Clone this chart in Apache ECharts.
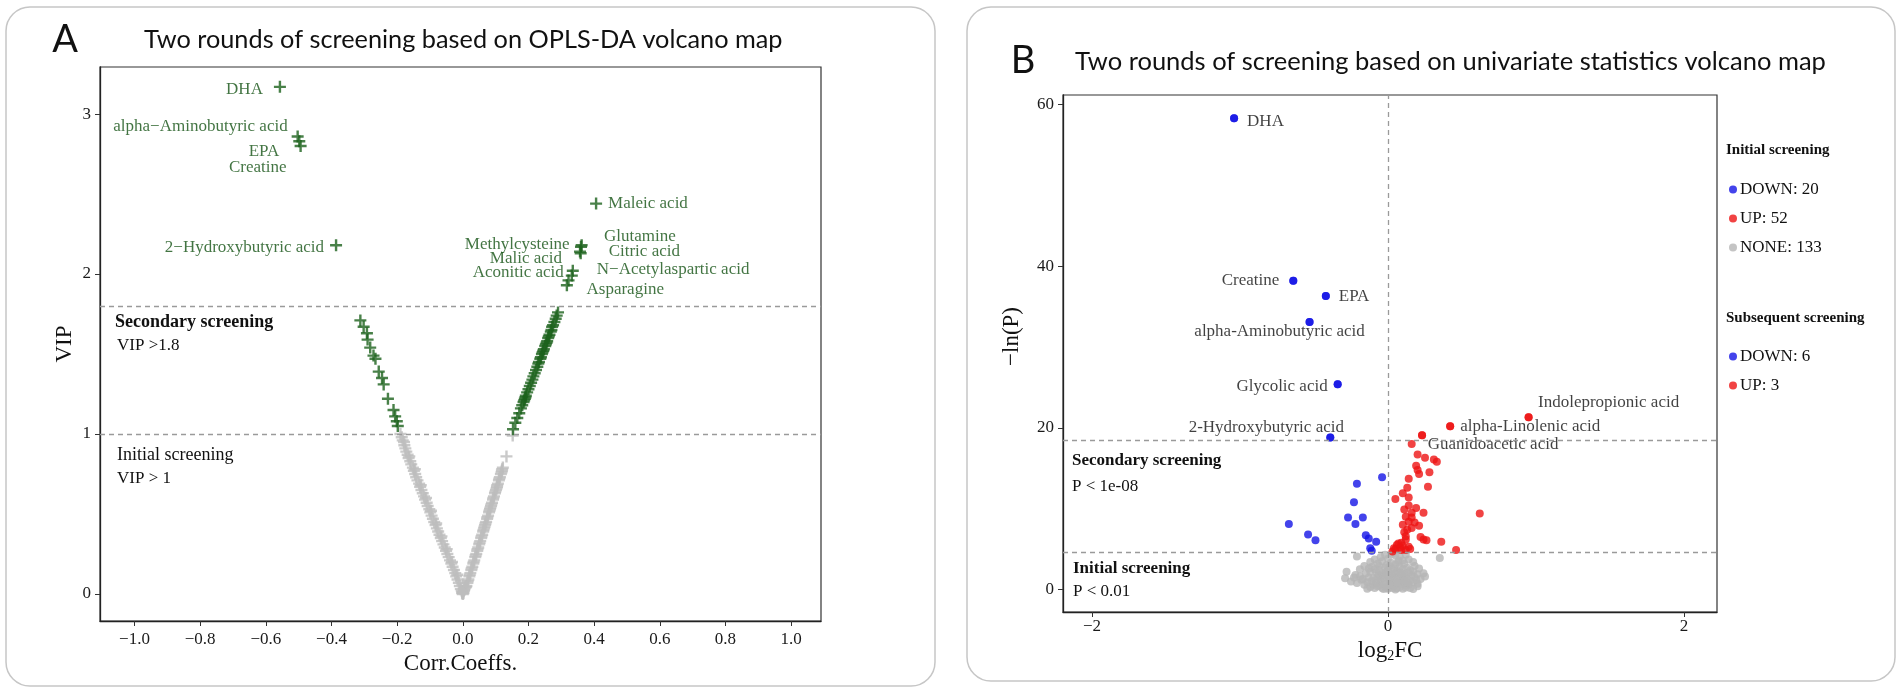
<!DOCTYPE html>
<html><head><meta charset="utf-8">
<script src="https://cdn.jsdelivr.net/npm/echarts@6/dist/echarts.min.js"></script>
<style>html,body{margin:0;padding:0;background:#fff}#c{width:1902px;height:691px}</style>
</head><body><div id="c"></div>
<script>
// ---------- tick labels ----------
const corrTicks = [-1.0, -0.8, -0.6, -0.4, -0.2, 0.0, 0.2, 0.4, 0.6, 0.8, 1.0];
const vipTicks = [0, 1, 2, 3];
const fcTicks = [-2, 0, 2];
const lnpTicks = [0, 20, 40, 60];

// ---------- Panel A: OPLS-DA (Corr.Coeffs., VIP) ----------
const vipCuts = [1.8, 1.0];
const aTopNames = ['DHA', 'alpha\u2212Aminobutyric acid', 'EPA', 'Creatine', '2\u2212Hydroxybutyric acid',
  'Maleic acid', 'Methylcysteine', 'Glutamine', 'Malic acid', 'Citric acid', 'Aconitic acid',
  'N\u2212Acetylaspartic acid', 'Asparagine'];
const aTopCorr = [-0.557, -0.503, -0.498, -0.494, -0.386, 0.406, 0.362, 0.360, 0.357, 0.359, 0.335, 0.332, 0.322];
const aTopVip = [3.17, 2.86, 2.83, 2.80, 2.18, 2.44, 2.18, 2.17, 2.14, 2.13, 2.02, 1.99, 1.96];
const aGreenLeft = [[-0.312,1.71],[-0.302,1.67],[-0.292,1.63],[-0.290,1.59],[-0.282,1.54],[-0.272,1.49],
  [-0.266,1.47],[-0.256,1.39],[-0.246,1.35],[-0.241,1.31],[-0.228,1.22],[-0.211,1.15],[-0.206,1.11],
  [-0.201,1.08],[-0.198,1.05]];
const aGreenRight = [[0.317,1.93],[0.290,1.76],[0.286,1.74],[0.283,1.72],[0.279,1.70],[0.275,1.68],[0.272,1.67],
  [0.270,1.65],[0.268,1.64],[0.264,1.62],[0.262,1.61],[0.260,1.60],[0.257,1.58],[0.255,1.57],[0.253,1.56],
  [0.251,1.55],[0.247,1.53],[0.245,1.52],[0.243,1.51],[0.241,1.50],[0.238,1.48],[0.236,1.47],[0.232,1.45],
  [0.230,1.44],[0.227,1.42],[0.223,1.40],[0.219,1.38],[0.215,1.36],[0.212,1.34],[0.208,1.32],[0.204,1.30],
  [0.200,1.28],[0.196,1.26],[0.192,1.24],[0.191,1.23],[0.189,1.22],[0.187,1.21],[0.185,1.20],[0.181,1.18],
  [0.177,1.16],[0.172,1.13],[0.166,1.10],[0.160,1.07],[0.153,1.03]];
const aGreyLeft = [[-0.186,0.98],[-0.183,0.96],[-0.178,0.93],[-0.175,0.91],[-0.172,0.89],[-0.168,0.87],
  [-0.165,0.85],[-0.160,0.83],[-0.157,0.81],[-0.152,0.79],[-0.149,0.77],[-0.145,0.75],[-0.142,0.73],
  [-0.138,0.71],[-0.133,0.69],[-0.130,0.67],[-0.126,0.65],[-0.122,0.63],[-0.118,0.61],[-0.115,0.59],
  [-0.110,0.57],[-0.107,0.55],[-0.102,0.53],[-0.099,0.51],[-0.095,0.49],[-0.091,0.47],[-0.087,0.45],
  [-0.083,0.43],[-0.079,0.41],[-0.075,0.39],[-0.071,0.37],[-0.067,0.35],[-0.063,0.33],[-0.059,0.31],
  [-0.055,0.29],[-0.051,0.27],[-0.047,0.25],[-0.043,0.23],[-0.039,0.21],[-0.035,0.19],[-0.031,0.17],
  [-0.027,0.15],[-0.023,0.13],[-0.020,0.11],[-0.016,0.09],[-0.012,0.07],[-0.009,0.05],[-0.006,0.03],
  [-0.003,0.02],[-0.001,0.01],[-0.190,1.00],[-0.179,0.95],[-0.163,0.86],[-0.146,0.78],[-0.128,0.68],
  [-0.112,0.60],[-0.097,0.52],[-0.081,0.44],[-0.065,0.36],[-0.049,0.28],[-0.033,0.20],[-0.017,0.12]];
const aGreyRight = [[0.152,0.99],[0.133,0.86],[0.122,0.79],[0.119,0.77],[0.116,0.75],[0.113,0.73],[0.110,0.71],
  [0.107,0.69],[0.104,0.67],[0.101,0.65],[0.098,0.63],[0.095,0.61],[0.092,0.59],[0.089,0.57],[0.086,0.55],
  [0.083,0.53],[0.080,0.51],[0.077,0.49],[0.074,0.47],[0.071,0.45],[0.068,0.43],[0.065,0.41],[0.062,0.39],
  [0.059,0.37],[0.056,0.35],[0.053,0.33],[0.050,0.31],[0.047,0.29],[0.044,0.27],[0.041,0.25],[0.038,0.23],
  [0.035,0.21],[0.032,0.19],[0.029,0.17],[0.026,0.15],[0.023,0.13],[0.020,0.11],[0.017,0.09],[0.014,0.07],
  [0.011,0.05],[0.008,0.04],[0.005,0.03],[0.003,0.02],[0.001,0.01],[0.120,0.78],[0.111,0.72],[0.105,0.68],
  [0.099,0.64],[0.093,0.60],[0.087,0.56],[0.081,0.52],[0.075,0.48],[0.069,0.44],[0.063,0.40],[0.057,0.36],
  [0.051,0.32],[0.045,0.28],[0.039,0.24],[0.033,0.20],[0.027,0.16],[0.021,0.12],[0.015,0.08],[0.009,0.045],
  [0.004,0.025],[0.000,0.000],[-0.002,0.005],[0.002,0.005],[0.118,0.76],[0.103,0.66],[0.084,0.54],[0.066,0.42]];

// ---------- Panel B: univariate (log2FC, -ln(P)) ----------
const pCuts = [18.42, 4.605];   // -ln(1e-08), -ln(0.01)
const bDownNames = ['DHA', 'Creatine', 'EPA', 'alpha-Aminobutyric acid', 'Glycolic acid', '2-Hydroxybutyric acid'];
const bDownLabX = [-1.04, -0.64, -0.42, -0.53, -0.34, -0.39];
const bDownLabY = [58.3, 38.2, 36.3, 33.1, 25.4, 18.8];
const bDownOther = [[-0.04,13.9],[-0.21,13.1],[-0.23,10.8],[-0.27,8.9],[-0.17,8.9],[-0.22,8.1],[-0.67,8.1],
  [-0.54,6.8],[-0.49,6.1],[-0.15,6.7],[-0.13,6.3],[-0.08,5.9],[-0.12,5.1],[-0.11,4.8]];
const bUpNames = ['Indolepropionic acid', 'alpha-Linolenic acid', 'Guanidoacetic acid'];
const bUpLabX = [0.95, 0.42, 0.16];
const bUpLabY = [21.3, 20.2, 18.0];
const bUpOther = [[0.23,19.1],[0.20,16.7],[0.25,16.3],[0.31,16.1],[0.33,15.8],[0.19,15.3],[0.20,14.8],
  [0.21,14.3],[0.28,14.5],[0.14,13.7],[0.27,12.7],[0.13,12.6],[0.10,11.9],[0.05,11.2],[0.14,11.4],[0.14,10.4],
  [0.19,10.1],[0.24,9.5],[0.16,9.5],[0.62,9.4],[0.12,9.0],[0.16,8.9],[0.14,8.4],[0.18,8.3],[0.21,7.9],
  [0.10,8.0],[0.16,7.6],[0.11,7.1],[0.22,6.5],[0.24,6.2],[0.26,6.1],[0.36,5.9],[0.46,4.9],[0.12,6.2],
  [0.09,5.8],[0.06,5.5],[0.10,5.4],[0.14,5.3],[0.05,5.0],[0.09,4.9],[0.03,4.7],[0.12,4.9],[0.08,5.2],
  [0.04,5.1],[0.15,5.0],[0.12,6.6],[0.11,9.9],[0.07,5.7],[0.13,7.4]];
const bNone = [[-0.21,4.1],[-0.02,4.3],[0.05,4.2],[0.35,3.9],[0.03,4.4],[-0.05,4.0],[0.08,4.1],[0.12,4.3],
  [-0.09,3.7],[-0.04,3.5],[0.00,3.8],[0.07,3.6],[0.10,3.6],[0.14,3.7],[-0.12,3.4],[0.02,3.3],[0.17,3.4],
  [-0.07,3.2],[0.05,3.1],[0.11,3.2],
  [-0.16,2.9],[-0.11,2.8],[-0.06,2.9],[-0.02,2.7],[0.01,2.9],[0.04,2.6],[0.08,2.8],[0.13,2.7],[0.18,2.9],
  [0.21,2.6],[-0.19,2.5],[-0.09,2.5],[0.00,2.4],[0.06,2.3],[0.10,2.5],[0.15,2.4],
  [-0.28,2.2],[-0.15,2.0],[-0.12,2.2],[-0.08,2.1],[-0.04,2.0],[-0.01,2.2],[0.02,1.9],[0.05,2.0],[0.08,2.1],
  [0.11,1.9],[0.14,2.1],[0.17,2.2],[0.20,1.9],[0.24,2.0],[-0.22,1.8],[-0.06,1.8],[0.03,1.7],[0.09,1.8],
  [0.12,1.6],[0.16,1.7],
  [-0.29,1.4],[-0.19,1.6],[-0.17,1.3],[-0.13,1.5],[-0.10,1.4],[-0.07,1.6],[-0.03,1.4],[0.00,1.5],[0.02,1.3],
  [0.04,1.5],[0.07,1.4],[0.10,1.3],[0.13,1.4],[0.18,1.5],[0.22,1.3],[-0.05,1.2],[0.01,1.1],[0.06,1.2],
  [0.09,1.0],[0.15,1.1],
  [-0.25,1.0],[-0.21,0.8],[-0.14,0.9],[-0.11,1.0],[-0.08,0.8],[-0.05,0.9],[-0.02,0.7],[0.00,0.9],[0.03,0.8],
  [0.05,0.6],[0.08,0.7],[0.11,0.8],[0.14,0.6],[0.17,0.9],[0.20,0.7],[-0.16,0.6],[-0.06,0.5],[0.02,0.5],
  [0.12,0.5],[-0.10,0.6],
  [-0.14,0.1],[-0.12,0.3],[-0.09,0.2],[-0.07,0.4],[-0.04,0.2],[-0.02,0.3],[0.00,0.1],[0.01,0.35],[0.03,0.2],
  [0.04,0.4],[0.06,0.15],[0.08,0.3],[0.10,0.1],[0.12,0.25],[0.15,0.2],[0.20,0.4],[0.17,0.05],[-0.03,0.05],
  [0.05,0.0],[-0.01,0.15],
  [-0.18,1.2],[-0.23,1.5],[0.25,1.6],[0.19,1.2],[-0.13,2.6],[0.07,3.4],[-0.01,3.0],[0.09,2.0],[-0.04,1.7],
  [0.03,2.5],[0.11,1.1],[-0.08,1.2],[0.06,0.9],[-0.02,1.9],[0.13,0.9],[0.01,0.6],[-0.06,2.4]];
const legendInitial = ['DOWN: 20', 'UP: 52', 'NONE: 133'];
const legendSubsequent = ['DOWN: 6', 'UP: 3'];

// ---------- styles / label placement (not data) ----------
const SERIF = 'Liberation Serif';
const SANS = 'Lato';
const GREEN = '#1b621b', GREY_A = '#bdbdbd';
const BLUE = '#1414e6', RED = '#ee1414', GREY_B = '#b5b5b5';
const PLUS = 'path://M4,0 H6 V4 H10 V6 H6 V10 H4 V6 H0 V4 H4 Z';
const aPlace = {
  'DHA': ['right', -17, 3], 'alpha\u2212Aminobutyric acid': ['right', -10, -10], 'EPA': ['right', -20, 10],
  'Creatine': ['right', -14, 22], '2\u2212Hydroxybutyric acid': ['right', -12, 2], 'Maleic acid': ['left', 12, 0],
  'Methylcysteine': ['right', -12, -1], 'Glutamine': ['left', 23, -10], 'Malic acid': ['right', -18, 7],
  'Citric acid': ['left', 28, -2], 'Aconitic acid': ['right', -9, 2], 'N\u2212Acetylaspartic acid': ['left', 25, -6],
  'Asparagine': ['left', 18, 9]
};
const bPlace = {
  'DHA': ['left', 13, 3], 'Creatine': ['right', -14, 0], 'EPA': ['left', 13, 0],
  'alpha-Aminobutyric acid': ['center', -30, 10], 'Glycolic acid': ['right', -10, 2],
  '2-Hydroxybutyric acid': ['center', -64, -10], 'Indolepropionic acid': ['center', 80, -15],
  'alpha-Linolenic acid': ['left', 10, 0], 'Guanidoacetic acid': ['left', 16, 0]
};
function labeled(names, xs, ys, place, color, size) {
  return names.map((n, i) => ({
    name: n, value: [xs[i], ys[i]],
    label: { show: true, position: 'inside', formatter: '{b}', align: place[n][0], verticalAlign: 'middle',
      offset: [place[n][1], place[n][2]], color: color, fontFamily: SERIF, fontSize: size }
  }));
}
const minusFmt = v => String(v).replace('-', '\u2212');

const aGreenData = labeled(aTopNames, aTopCorr, aTopVip, aPlace, '#145214', 17).concat(aGreenLeft, aGreenRight);
const aGreyData = aGreyLeft.concat(aGreyRight);
const bDownData = labeled(bDownNames, bDownLabX, bDownLabY, bPlace, '#111', 17).concat(bDownOther);
const bUpData = labeled(bUpNames, bUpLabX, bUpLabY, bPlace, '#111', 17).concat(bUpOther);
const bDownAll = bDownLabX.map((x, i) => [x, bDownLabY[i]]).concat(bDownOther);
const bUpAll = bUpLabX.map((x, i) => [x, bUpLabY[i]]).concat(bUpOther);
const bDownSub = bDownAll.filter(p => p[1] > pCuts[0]);
const bUpSub = bUpAll.filter(p => p[1] > pCuts[0]);

const dashed = { type: [5, 4], color: '#9a9a9a', width: 1.3 };
function axisCommon(ticks, fmt, margin) {
  return {
    axisLine: { show: true, onZero: false, lineStyle: { color: '#222', width: 1.3 } },
    axisTick: { show: true, length: 5, customValues: ticks, lineStyle: { color: '#333' } },
    axisLabel: { customValues: ticks, formatter: fmt, fontFamily: SERIF, fontSize: 17, color: '#1a1a1a', margin: margin },
    splitLine: { show: false }
  };
}

const chart = echarts.init(document.getElementById('c'), null, { renderer: 'canvas' });
chart.setOption({
  animation: false,
  backgroundColor: '#fff',
  grid: [
    { left: 100, top: 67, width: 721, height: 554, show: true, borderColor: '#333', borderWidth: 1.2 },
    { left: 1063, top: 95, width: 654, height: 517, show: true, borderColor: '#333', borderWidth: 1.2 }
  ],
  xAxis: [
    Object.assign({ type: 'value', gridIndex: 0, min: -1.105, max: 1.091, name: 'Corr.Coeffs.',
      nameLocation: 'middle', nameGap: 25, nameTextStyle: { fontFamily: SERIF, fontSize: 23, color: '#111' } },
      axisCommon(corrTicks, v => minusFmt(v.toFixed(1)), 10)),
    Object.assign({ type: 'value', gridIndex: 1, min: -2.196, max: 2.223, name: 'log{s|2}FC',
      nameLocation: 'middle', nameGap: 20,
      nameTextStyle: { fontFamily: SERIF, fontSize: 23, color: '#111',
        rich: { s: { fontFamily: SERIF, fontSize: 14, verticalAlign: 'bottom', padding: [10, 0, 0, 0] } } } },
      axisCommon(fcTicks, v => minusFmt(v), 6))
  ],
  yAxis: [
    Object.assign({ type: 'value', gridIndex: 0, min: -0.169, max: 3.294, name: 'VIP',
      nameLocation: 'middle', nameGap: 24, nameTextStyle: { fontFamily: SERIF, fontSize: 23, color: '#111' } },
      axisCommon(vipTicks, v => String(v), 9)),
    Object.assign({ type: 'value', gridIndex: 1, min: -2.78, max: 61.18, name: '\u2212ln(P)',
      nameLocation: 'middle', nameGap: 40,
      nameTextStyle: { fontFamily: SERIF, fontSize: 23, color: '#111', padding: [0, 0, 0, 34] } },
      axisCommon(lnpTicks, v => String(v), 9))
  ],
  legend: [
    { data: legendInitial, orient: 'vertical', left: 1724, top: 176, itemGap: 12, icon: 'circle',
      itemWidth: 8, itemHeight: 8, textStyle: { fontFamily: SERIF, fontSize: 17, color: '#111', padding: [0, 0, 0, -2] } },
    { data: legendSubsequent, orient: 'vertical', left: 1724, top: 343, itemGap: 12, icon: 'circle',
      itemWidth: 8, itemHeight: 8, textStyle: { fontFamily: SERIF, fontSize: 17, color: '#111', padding: [0, 0, 0, -2] } }
  ],
  series: [
    { name: 'A none', type: 'scatter', xAxisIndex: 0, yAxisIndex: 0, data: aGreyData,
      symbol: PLUS, symbolSize: 12, itemStyle: { color: GREY_A }, silent: true,
      markLine: { silent: true, symbol: ['none', 'none'], label: { show: false }, lineStyle: dashed,
        data: vipCuts.map(v => ({ yAxis: v })) } },
    { name: 'A sig', type: 'scatter', xAxisIndex: 0, yAxisIndex: 0, data: aGreenData,
      symbol: PLUS, symbolSize: 12, itemStyle: { color: GREEN }, silent: true },
    { name: legendInitial[2], type: 'scatter', xAxisIndex: 1, yAxisIndex: 1, data: bNone,
      symbol: 'circle', symbolSize: 8, itemStyle: { color: GREY_B }, silent: true,
      markLine: { silent: true, symbol: ['none', 'none'], label: { show: false }, lineStyle: dashed,
        data: pCuts.map(v => ({ yAxis: v })).concat([{ xAxis: 0 }]) } },
    { name: legendInitial[0], type: 'scatter', xAxisIndex: 1, yAxisIndex: 1, data: bDownData,
      symbol: 'circle', symbolSize: 8, itemStyle: { color: BLUE }, silent: true },
    { name: legendInitial[1], type: 'scatter', xAxisIndex: 1, yAxisIndex: 1, data: bUpData,
      symbol: 'circle', symbolSize: 8, itemStyle: { color: RED }, silent: true },
    { name: legendSubsequent[0], type: 'scatter', xAxisIndex: 1, yAxisIndex: 1, data: bDownSub,
      symbol: 'circle', symbolSize: 8, itemStyle: { color: BLUE }, silent: true },
    { name: legendSubsequent[1], type: 'scatter', xAxisIndex: 1, yAxisIndex: 1, data: bUpSub,
      symbol: 'circle', symbolSize: 8, itemStyle: { color: RED }, silent: true }
  ],
  graphic: [
    { type: 'rect', shape: { x: 6, y: 7, width: 929, height: 679, r: 24 }, style: { fill: 'none', stroke: '#c6c6c6', lineWidth: 1.5 }, z: -1 },
    { type: 'rect', shape: { x: 967, y: 7, width: 928, height: 674, r: 24 }, style: { fill: 'none', stroke: '#c6c6c6', lineWidth: 1.5 }, z: -1 },
    { type: 'text', x: 65, y: 40, style: { text: 'A', font: '38px ' + SANS, fill: '#111', align: 'center', verticalAlign: 'middle' } },
    { type: 'text', x: 144, y: 40, style: { text: 'Two rounds of screening based on OPLS-DA volcano map', font: '25.3px ' + SANS, fill: '#111', align: 'left', verticalAlign: 'middle' } },
    { type: 'text', x: 1023, y: 61, style: { text: 'B', font: '38px ' + SANS, fill: '#111', align: 'center', verticalAlign: 'middle' } },
    { type: 'text', x: 1075, y: 62, style: { text: 'Two rounds of screening based on univariate statistics volcano map', font: '25.5px ' + SANS, fill: '#111', align: 'left', verticalAlign: 'middle' } },
    { type: 'text', x: 115, y: 322, style: { text: 'Secondary screening', font: 'bold 18px ' + SERIF, fill: '#111', verticalAlign: 'middle' } },
    { type: 'text', x: 117, y: 346, style: { text: 'VIP >1.8', font: '17px ' + SERIF, fill: '#111', verticalAlign: 'middle' } },
    { type: 'text', x: 117, y: 455, style: { text: 'Initial screening', font: '18px ' + SERIF, fill: '#111', verticalAlign: 'middle' } },
    { type: 'text', x: 117, y: 479, style: { text: 'VIP > 1', font: '17px ' + SERIF, fill: '#111', verticalAlign: 'middle' } },
    { type: 'text', x: 1072, y: 461, style: { text: 'Secondary screening', font: 'bold 17px ' + SERIF, fill: '#111', verticalAlign: 'middle' } },
    { type: 'text', x: 1072, y: 487, style: { text: 'P < 1e-08', font: '17px ' + SERIF, fill: '#111', verticalAlign: 'middle' } },
    { type: 'text', x: 1073, y: 569, style: { text: 'Initial screening', font: 'bold 17px ' + SERIF, fill: '#111', verticalAlign: 'middle' } },
    { type: 'text', x: 1073, y: 592, style: { text: 'P < 0.01', font: '17px ' + SERIF, fill: '#111', verticalAlign: 'middle' } },
    { type: 'text', x: 1726, y: 150, style: { text: 'Initial screening', font: 'bold 15px ' + SERIF, fill: '#111', verticalAlign: 'middle' } },
    { type: 'text', x: 1726, y: 318, style: { text: 'Subsequent screening', font: 'bold 15px ' + SERIF, fill: '#111', verticalAlign: 'middle' } }
  ]
});
</script></body></html>
